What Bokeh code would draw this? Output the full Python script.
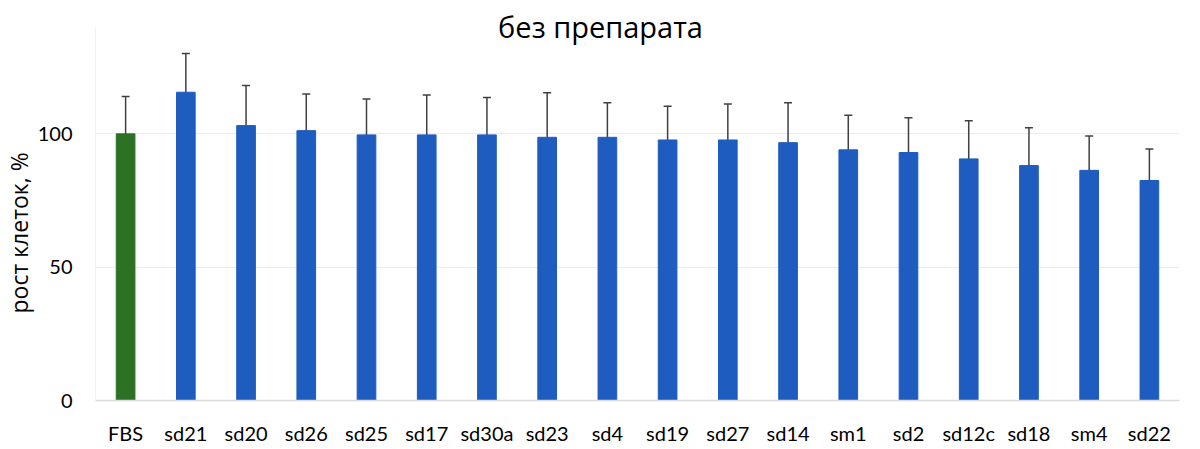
from bokeh.plotting import figure
from bokeh.models import ColumnDataSource, FactorRange, Range1d, Label, Whisker, Title
from bokeh.embed import file_html
from bokeh.resources import INLINE

# ---- data ----
categories = ["FBS", "sd21", "sd20", "sd26", "sd25", "sd17", "sd30a", "sd23", "sd4",
              "sd19", "sd27", "sd14", "sm1", "sd2", "sd12c", "sd18", "sm4", "sd22"]
growth = [100.0, 115.6, 103.1, 101.2, 99.6, 99.6, 99.6, 98.7, 98.7,
          97.7, 97.7, 96.7, 94.0, 93.0, 90.6, 88.1, 86.3, 82.5]
err = [14.0, 14.5, 15.0, 13.7, 13.5, 15.0, 14.0, 16.7, 13.0,
       12.6, 13.5, 15.0, 13.0, 13.0, 14.3, 14.2, 12.9, 11.8]
colors = ["#2C7224"] + ["#1F5CBF"] * (len(categories) - 1)
y_ticks = [0, 50, 100]
title_text = "без препарата"
y_label_text = "рост клеток, %"

Y_TOP = 140
Y_END = 147

src = ColumnDataSource(dict(
    cat=categories, val=growth, color=colors,
    upper=[v + e for v, e in zip(growth, err)],
    lower=[v - e for v, e in zip(growth, err)],
))

p = figure(x_range=FactorRange(*categories, range_padding=0), y_range=Range1d(0, Y_END),
           width=1200, height=449, output_backend="svg", toolbar_location=None,
           min_border_left=95, min_border_right=21, min_border_top=8, min_border_bottom=49)
p.outline_line_color = None
p.background_fill_color = "white"
p.border_fill_color = "white"

p.vbar(x="cat", top="val", width=0.31, fill_color="color", line_color="color",
       line_width=1, source=src)

w = Whisker(base="cat", upper="upper", lower="lower", source=src,
            line_color="#404040", line_width=1.5)
for h in (w.upper_head, w.lower_head):
    h.size = 8
    h.line_color = "#404040"
    h.line_width = 1.5
p.add_layout(w)

# left frame line
p.segment(x0=[0], y0=[0], x1=[0], y1=[Y_TOP], line_color="#e6e6e6", line_width=1)

# axes
p.yaxis.ticker = y_ticks
p.yaxis.axis_line_color = None
p.yaxis.major_tick_line_color = None
p.yaxis.minor_tick_line_color = None
p.yaxis.major_label_standoff = 17
p.yaxis.major_label_text_font = "Lato"
p.yaxis.major_label_text_font_size = "20px"
p.yaxis.major_label_text_color = "black"

p.xaxis.axis_line_color = "#d9d9d9"
p.xaxis.axis_line_width = 1.5
p.xaxis.major_tick_line_color = None
p.xaxis.minor_tick_line_color = None
p.xaxis.major_label_standoff = 14
p.xaxis.major_label_text_font = "Lato"
p.xaxis.major_label_text_font_size = "20px"
p.xaxis.major_label_text_color = "black"

p.xgrid.grid_line_color = None
p.ygrid.grid_line_color = "#ececec"
p.ygrid.grid_line_width = 1

# title inside the frame
p.add_layout(Label(x=len(categories) * (600 - 95) / (1179 - 95), y=Y_TOP + 0.4,
                   text=title_text, text_align="center", text_baseline="middle",
                   text_font="Open Sans", text_font_size="29px", text_color="black"))

# y axis label as a side title
p.add_layout(Title(text=y_label_text, align="left", offset=87, text_font="Open Sans",
                   text_font_size="23px", text_font_style="normal", text_color="black",
                   standoff=0), "left")

open("out.html", "w").write(file_html(p, INLINE))
